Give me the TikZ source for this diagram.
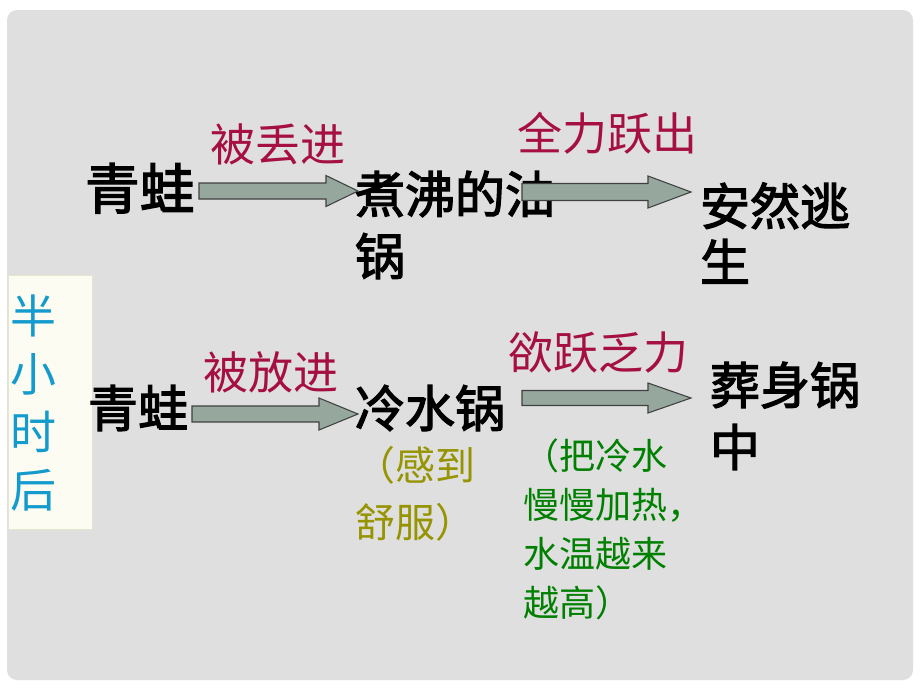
\documentclass[tikz,border=0pt]{standalone}
\usepackage{fontspec}
\setmainfont{Noto Sans CJK SC}
\newfontfamily\blkfont[FakeBold=2.5]{Noto Sans CJK SC}
\usetikzlibrary{calc}
\definecolor{bgray}{RGB}{223,223,223}
\definecolor{boxfill}{RGB}{252,252,243}
\definecolor{boxline}{RGB}{230,230,205}
\definecolor{lblred}{RGB}{165,15,65}
\definecolor{tcyan}{RGB}{20,155,205}
\definecolor{tgreen}{RGB}{0,128,0}
\definecolor{tolive}{RGB}{150,148,0}
\definecolor{arrfill}{RGB}{150,168,158}
\definecolor{arrline}{RGB}{64,64,64}
\tikzset{
  txt/.style={inner sep=0pt, outer sep=0pt, anchor=base west, align=left},
  blk/.style={txt, text=black, font=\blkfont\fontsize{37.5}{46.5}\selectfont},
  lbl/.style={txt, text=lblred, font=\fontsize{33.75}{40}\selectfont},
  side/.style={txt, text=tcyan, font=\fontsize{34.5}{43.5}\selectfont},
  olive/.style={txt, text=tolive, font=\fontsize{30}{42.75}\selectfont},
  note/.style={txt, text=tgreen, font=\fontsize{27}{36.75}\selectfont},
  arrowstyle/.style={draw=arrline, fill=arrfill, line width=0.8pt, line join=miter}
}
\newcommand\blockarrow[5]{%
  \draw[arrowstyle] ($(#1)+(0,-#4)$) -- ($(#2)+(-#3,-#4)$) -- ($(#2)+(-#3,-#5)$) -- (#2)
    -- ($(#2)+(-#3,#5)$) -- ($(#2)+(-#3,#4)$) -- ($(#1)+(0,#4)$) -- cycle;}
\begin{document}
\begin{tikzpicture}[x=0.75pt,y=-0.75pt]
\useasboundingbox (0,0) rectangle (920,690);
\fill[white] (0,0) rectangle (920,690);
\fill[bgray, rounded corners=7.5pt] (7,10) rectangle (913,680);
\draw[boxline, fill=boxfill, line width=0.75pt] (8,275) rectangle (92,529);

% side label (base = last line)
\node[side] (half) at (11,507) {半\\小\\时\\后};

% row 1
\node[blk, font=\blkfont\fontsize{41}{46.5}\selectfont] (frog1) at (85,209) {青蛙};
\node[blk] (boil) at (355,275) {煮沸的油\\锅};
\node[blk, font=\blkfont\fontsize{37.5}{42}\selectfont] (safe) at (700,281) {安然逃\\生};
\node[lbl] (thrown) at (210,161) {被丢进};
\node[lbl] (leap) at (517,150) {全力跃出};

% row 2
\node[blk] (frog2) at (88,427) {青蛙};
\node[blk] (cold) at (355,427) {冷水锅};
\node[blk] (bury) at (710,466) {葬身锅\\中};
\node[lbl] (placed) at (203,389) {被放进};
\node[lbl] (weak) at (508,369) {欲跃乏力};
\node[olive] (comfy) at (355,537) {（感到\\舒服）};
\node[note] (heat) at (523,616) {（把冷水\\慢慢加热，\\水温越来\\越高）};

% arrows
\coordinate (a1s) at (199,191); \coordinate (a1e) at (358,191);
\coordinate (a2s) at (522,192); \coordinate (a2e) at (691,192);
\coordinate (a3s) at (192,414); \coordinate (a3e) at (358,414);
\coordinate (a4s) at (522,398); \coordinate (a4e) at (691,398);
\blockarrow{a1s}{a1e}{32}{8}{15.5}
\blockarrow{a2s}{a2e}{43}{8.5}{16}
\blockarrow{a3s}{a3e}{39}{8}{16}
\blockarrow{a4s}{a4e}{43}{7.5}{15}
\end{tikzpicture}
\end{document}
